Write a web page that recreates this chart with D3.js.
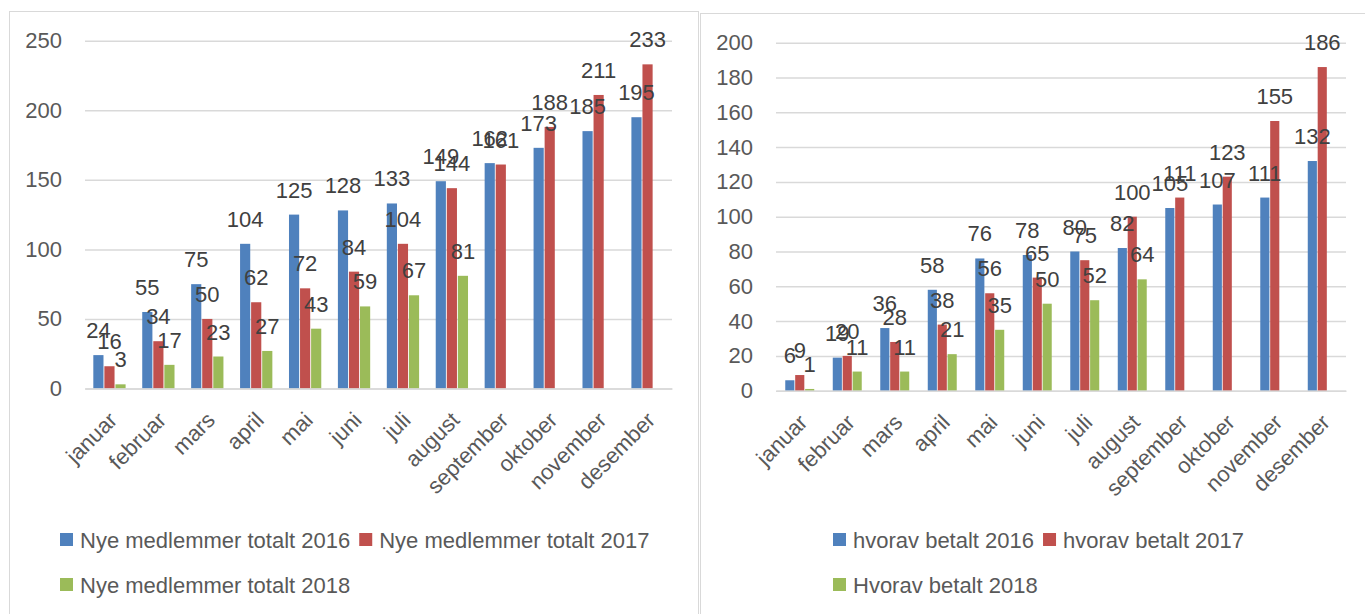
<!DOCTYPE html>
<html>
<head>
	<meta charset="utf-8">
	<script src="https://d3js.org/d3.v7.min.js"></script>
	<title>Nye medlemmer</title>
	<style>
		body { margin: 0; background: #ffffff; }
		svg { display: block; }
	</style>
</head>
<body>
	<div id="chart"></div>

	<script type="text/javascript">

		// months (categories)
		var months = ["januar", "februar", "mars", "april", "mai", "juni", "juli",
			"august", "september", "oktober", "november", "desember"];

		// left chart: new members in total
		var totalt2016 = [24, 55, 75, 104, 125, 128, 133, 149, 162, 173, 185, 195];
		var totalt2017 = [16, 34, 50, 62, 72, 84, 104, 144, 161, 188, 211, 233];
		var totalt2018 = [3, 17, 23, 27, 43, 59, 67, 81];
		var totaltNames = ["Nye medlemmer totalt 2016", "Nye medlemmer totalt 2017", "Nye medlemmer totalt 2018"];
		var totaltTicks = [0, 50, 100, 150, 200, 250];

		// right chart: of which paid
		var betalt2016 = [6, 19, 36, 58, 76, 78, 80, 82, 105, 107, 111, 132];
		var betalt2017 = [9, 20, 28, 38, 56, 65, 75, 100, 111, 123, 155, 186];
		var betalt2018 = [1, 11, 11, 21, 35, 50, 52, 64];
		var betaltNames = ["hvorav betalt 2016", "hvorav betalt 2017", "Hvorav betalt 2018"];
		var betaltTicks = [0, 20, 40, 60, 80, 100, 120, 140, 160, 180, 200];

		var colors = ["#4F81BD", "#C0504D", "#9BBB59"];
		var fontFam = "'Liberation Sans', Arial, sans-serif";

		var svg = d3.select("#chart").append("svg")
			.attr("width", 1365)
			.attr("height", 614);

		// panel frames
		svg.append("rect")
			.attr("x", 9.5).attr("y", 11.5)
			.attr("width", 689).attr("height", 640)
			.attr("fill", "none").attr("stroke", "#D9D9D9");
		svg.append("rect")
			.attr("x", 700.5).attr("y", 13.5)
			.attr("width", 700).attr("height", 640)
			.attr("fill", "none").attr("stroke", "#D9D9D9");

		function drawChart(opt){
			var g = svg.append("g");
			var series = [opt.s1, opt.s2, opt.s3];

			var xScale = d3.scaleBand()
				.domain(months)
				.range([opt.left, opt.right]);
			var bw = xScale.bandwidth();

			var xInner = d3.scaleBand()
				.domain([0, 1, 2])
				.range([bw * (0.5 - opt.group / 2), bw * (0.5 + opt.group / 2)])
				.paddingInner(0.08);

			var yScale = d3.scaleLinear()
				.domain([0, opt.max])
				.range([opt.bottom, opt.top]);

			// grid + y labels
			var yAxis = d3.axisLeft(yScale)
				.tickValues(opt.ticks)
				.tickSizeInner(-(opt.right - opt.left))
				.tickSizeOuter(0)
				.tickPadding(23);
			var ya = g.append("g")
				.attr("transform", "translate(" + opt.left + ",0)")
				.call(yAxis);
			ya.select(".domain").remove();
			ya.selectAll("line").attr("stroke", "#D9D9D9").attr("stroke-width", 1.5);
			ya.selectAll("text")
				.attr("fill", "#595959")
				.attr("font-family", fontFam)
				.attr("font-size", 22);

			// bars
			series.forEach(function(vals, si){
				g.append("g").selectAll("rect")
					.data(vals).enter().append("rect")
					.attr("x", function(d, i){ return xScale(months[i]) + xInner(si); })
					.attr("y", function(d){ return yScale(d); })
					.attr("width", xInner.bandwidth())
					.attr("height", function(d){ return yScale(0) - yScale(d); })
					.attr("fill", colors[si]);
			});

			// data labels
			series.forEach(function(vals, si){
				g.append("g").selectAll("text")
					.data(vals).enter().append("text")
					.attr("x", function(d, i){ return xScale(months[i]) + xInner(si) + xInner.bandwidth() / 2; })
					.attr("y", function(d){ return yScale(d) - 17; })
					.attr("text-anchor", "middle")
					.attr("fill", "#404040")
					.attr("font-family", fontFam)
					.attr("font-size", 22)
					.text(function(d){ return d; });
			});

			// x axis
			var xAxis = d3.axisBottom(xScale).tickSize(0);
			var xa = g.append("g")
				.attr("transform", "translate(0," + opt.bottom + ")")
				.call(xAxis);
			xa.select(".domain").attr("stroke", "#D9D9D9").attr("stroke-width", 1.5);
			xa.selectAll("text")
				.attr("y", 0).attr("dy", 0)
				.attr("text-anchor", "end")
				.attr("transform", "translate(9,33) rotate(-45)")
				.attr("fill", "#595959")
				.attr("font-family", fontFam)
				.attr("font-size", 22);

			// legend
			var items = [
				{ name: opt.names[0], row: 0 },
				{ name: opt.names[1], row: 0 },
				{ name: opt.names[2], row: 1 }
			];
			var lx = opt.legendX;
			items.forEach(function(it, i){
				if (i == 2) lx = opt.legendX;
				var rowY = opt.legendY + it.row * 45;
				g.append("rect")
					.attr("x", lx).attr("y", rowY - 15)
					.attr("width", 13).attr("height", 13)
					.attr("fill", colors[i]);
				var t = g.append("text")
					.attr("x", lx + 20).attr("y", rowY)
					.attr("fill", "#595959")
					.attr("font-family", fontFam)
					.attr("font-size", 22)
					.text(it.name);
				lx = lx + 20 + t.node().getComputedTextLength() + 9;
			});
		}

		drawChart({
			s1: totalt2016, s2: totalt2017, s3: totalt2018,
			names: totaltNames, ticks: totaltTicks, max: 250,
			left: 85, right: 672, top: 40.7, bottom: 388.5,
			group: 0.66, legendX: 60, legendY: 548
		});

		drawChart({
			s1: betalt2016, s2: betalt2017, s3: betalt2018,
			names: betaltNames, ticks: betaltTicks, max: 200,
			left: 776, right: 1346, top: 42.7, bottom: 390.7,
			group: 0.61, legendX: 833, legendY: 548
		});

	</script>
</body>
</html>
